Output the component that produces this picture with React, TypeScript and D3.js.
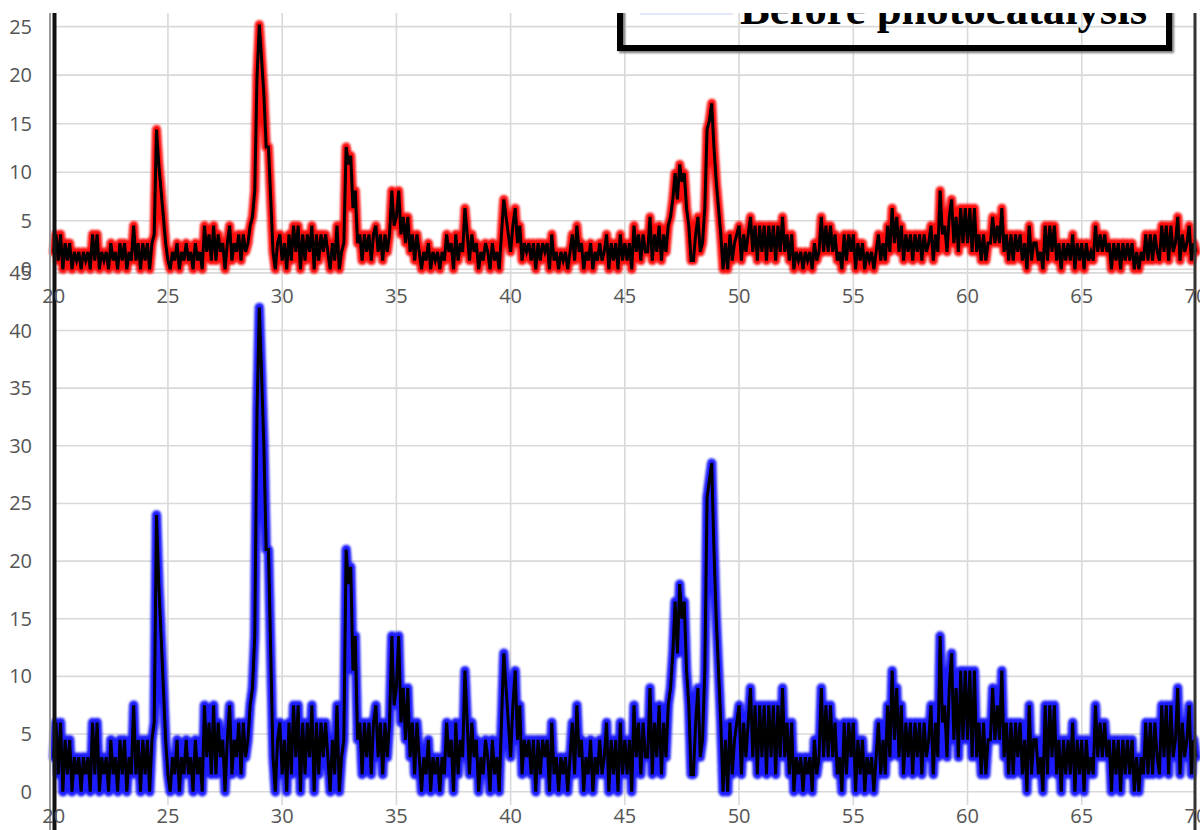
import React from 'react';
import * as d3 from 'd3';

// 2θ sampling of the traces (degrees)
const X_START = 20;
const X_STEP = 0.1;

// intensity read as count levels (top: 0.9 per level, bottom: 1.5 per level)
const TOP_UNIT = 0.9;
const BOTTOM_UNIT = 1.5;

const topCounts = [
  2,4,1,4,0,3,1,3,0,2, 1,2,0,2,1,2,0,4,1,4, 0,2,1,2,0,3,1,2,0,3, 1,3,0,2,1,5,1,3,0,3,
  1,3,0,3,4,16,12,9,6,3, 1,0,2,1,3,0,2,1,3,1, 2,0,3,1,2,0,5,2,4,1, 5,1,4,2,3,0,3,5,1,3,
  2,4,1,4,2,3,5,6,9,22, 28,24,20,14,14,8,2,0,3,4, 1,3,0,4,1,5,2,5,0,4, 1,4,2,5,0,4,1,4,2,4,
  2,0,3,1,5,0,2,3,14,12, 13,7,9,3,4,1,4,2,4,1, 4,5,2,4,1,4,2,4,9,5, 6,9,4,6,3,6,2,4,1,4,
  2,0,2,1,3,0,2,1,2,0, 2,1,4,2,3,0,4,1,3,2, 7,4,1,4,2,3,0,2,1,3, 2,0,3,1,2,0,4,8,6,4,
  2,5,7,3,5,1,3,2,3,1, 3,0,3,1,3,2,3,0,4,1, 2,0,2,1,2,0,2,4,1,5, 2,3,0,2,1,3,0,2,1,3,
  1,2,4,0,3,1,3,0,4,1, 3,1,3,0,5,2,4,1,4,2, 2,6,1,4,2,5,1,4,2,5, 6,8,11,8,12,10,11,7,5,1,
  1,4,6,2,3,7,16,17,19,14, 10,7,4,0,3,0,4,1,3,4, 5,1,4,2,4,6,2,5,1,5, 2,5,1,5,2,5,1,5,2,6,
  2,4,1,4,0,2,1,2,0,2, 1,2,0,3,1,2,6,2,5,2, 5,2,4,1,2,0,4,1,4,2, 4,0,3,1,3,0,2,1,2,0,
  2,4,1,3,1,5,2,7,3,6, 2,5,1,4,2,4,1,4,2,4, 1,4,2,3,5,1,4,2,9,4, 5,2,6,8,3,6,2,7,3,7,
  3,7,2,7,2,4,1,4,1,3, 3,6,3,5,3,7,2,4,1,4, 1,4,2,4,1,3,0,5,1,3, 3,1,2,0,5,1,5,2,5,1,
  3,0,3,1,3,1,4,0,3,1, 3,0,3,1,2,1,5,2,4,2, 4,2,3,0,3,1,3,0,3,1, 3,1,3,0,2,0,2,1,4,1,
  4,1,4,2,1,5,2,5,1,5, 2,3,6,1,4,2,3,5,1,3, 2,
];

const bottomCounts = [
  2,4,1,4,0,3,1,3,0,2, 1,2,0,2,1,2,0,4,1,4, 0,2,1,2,0,3,1,2,0,3, 1,3,0,2,1,5,1,3,0,3,
  1,3,0,3,4,16,12,9,6,3, 1,0,2,1,3,0,2,1,3,1, 2,0,3,1,2,0,5,2,4,1, 5,1,4,2,3,0,3,5,1,3,
  2,4,1,4,2,3,5,6,9,22, 28,24,20,14,14,8,2,0,3,4, 1,3,0,4,1,5,2,5,0,4, 1,4,2,5,0,4,1,4,2,4,
  2,0,3,1,5,0,2,3,14,12, 13,7,9,3,4,1,4,2,4,1, 4,5,2,4,1,4,2,4,9,5, 6,9,4,6,3,6,2,4,1,4,
  2,0,2,1,3,0,2,1,2,0, 2,1,4,2,3,0,4,1,3,2, 7,4,1,4,2,3,0,2,1,3, 2,0,3,1,2,0,4,8,6,4,
  2,5,7,3,5,1,3,2,3,1, 3,0,3,1,3,2,3,0,4,1, 2,0,2,1,2,0,2,4,1,5, 2,3,0,2,1,3,0,2,1,3,
  1,2,4,0,3,1,3,0,4,1, 3,1,3,0,5,2,4,1,4,2, 2,6,1,4,2,5,1,4,2,5, 6,8,11,8,12,10,11,7,5,1,
  1,4,6,2,3,7,17,18,19,14, 10,7,4,0,3,0,4,1,3,4, 5,1,4,2,4,6,2,5,1,5, 2,5,1,5,2,5,1,5,2,6,
  2,4,1,4,0,2,1,2,0,2, 1,2,0,3,1,2,6,2,5,2, 5,2,4,1,2,0,4,1,4,2, 4,0,3,1,3,0,2,1,2,0,
  2,4,1,3,1,5,2,7,3,6, 2,5,1,4,2,4,1,4,2,4, 1,4,2,3,5,1,4,2,9,4, 5,2,6,8,3,6,2,7,3,7,
  3,7,2,7,2,4,1,4,1,3, 3,6,3,5,3,7,2,4,1,4, 1,4,2,4,1,3,0,5,1,3, 3,1,2,0,5,1,5,2,5,1,
  3,0,3,1,3,1,4,0,3,1, 3,0,3,1,2,1,5,2,4,2, 4,2,3,0,3,1,3,0,3,1, 3,1,3,0,2,0,2,1,4,1,
  4,1,4,2,1,5,2,5,1,5, 2,3,6,1,4,2,3,5,1,3, 2,
];

const xTicks = [20, 25, 30, 35, 40, 45, 50, 55, 60, 65, 70];
const topYTicks = [0, 5, 10, 15, 20, 25];
const bottomYTicks = [0, 5, 10, 15, 20, 25, 30, 35, 40, 45];
const legendLabel = 'Before photocatalysis';

const W = 1200;
const H = 830;
const CLIP_TOP = 13;
const X0 = 53.7;
const X1 = 1196;

export default function App() {
  const x = d3.scaleLinear().domain([20, 70]).range([X0, X1]);
  const yTop = d3.scaleLinear().domain([0, 25]).range([269.3, 26.6]);
  const yBot = d3.scaleLinear().domain([0, 40]).range([791.7, 330.5]);

  const topLine = d3
    .line<number>()
    .x((_, i) => x(X_START + i * X_STEP))
    .y((d) => yTop(d * TOP_UNIT));
  const botLine = d3
    .line<number>()
    .x((_, i) => x(X_START + i * X_STEP))
    .y((d) => yBot(d * BOTTOM_UNIT));

  const grid = '#d9d9d9';
  const labelFont = { fontFamily: 'Open Sans, Noto Sans, sans-serif', fontSize: 20, fill: '#555' };

  const topPath = topLine(topCounts) || '';
  const botPath = botLine(bottomCounts) || '';

  return (
    <svg
      width={W}
      height={H}
      style={{ position: 'absolute', left: 0, top: 0, background: '#fff' }}
    >
      <defs>
        <clipPath id="page">
          <rect x={0} y={CLIP_TOP} width={W} height={H - CLIP_TOP} />
        </clipPath>
        <filter id="soft" x="-5%" y="-5%" width="110%" height="110%">
          <feGaussianBlur stdDeviation="1.1" />
        </filter>
        <filter id="shadow" x="-5%" y="-50%" width="110%" height="200%">
          <feGaussianBlur stdDeviation="1.2" />
        </filter>
      </defs>
      <rect x={0} y={0} width={W} height={H} fill="#fff" />
      <g clipPath="url(#page)">
        {/* vertical grid */}
        {xTicks.slice(1, -1).map((t) => (
          <line key={'vg' + t} x1={x(t)} x2={x(t)} y1={CLIP_TOP} y2={805} stroke={grid} strokeWidth={1.6} />
        ))}
        {/* horizontal grid top */}
        {topYTicks.map((t) => (
          <line key={'tg' + t} x1={X0} x2={X1} y1={yTop(t)} y2={yTop(t)} stroke={grid} strokeWidth={1.6} />
        ))}
        {/* horizontal grid bottom */}
        {bottomYTicks.map((t) => (
          <line key={'bg' + t} x1={X0} x2={X1} y1={yBot(t)} y2={yBot(t)} stroke={grid} strokeWidth={1.6} />
        ))}

        {/* legend box (partly cut at top) */}
        <rect x={622} y={-20} width={549} height={70} fill="none" stroke="#777" strokeWidth={6} filter="url(#shadow)" />
        <rect x={620} y={-20} width={549} height={68} fill="none" stroke="#000" strokeWidth={6} />
        <line x1={640} x2={733} y1={14} y2={14} stroke="#c9d2ff" strokeWidth={1.2} />
        <text
          x={740}
          y={23.5}
          textLength={407}
          lengthAdjust="spacingAndGlyphs"
          style={{ fontFamily: 'Liberation Serif, DejaVu Serif, serif', fontWeight: 700, fontSize: 45, fill: '#000' }}
        >
          {legendLabel}
        </text>

        {/* top trace */}
        <path d={topPath} fill="none" stroke="#ff0a0a" strokeWidth={9} strokeLinejoin="round" strokeLinecap="round" filter="url(#soft)" />
        <path d={topPath} fill="none" stroke="#000" strokeWidth={3} strokeLinejoin="miter" />

        {/* bottom trace */}
        <path d={botPath} fill="none" stroke="#1e1eff" strokeWidth={9.5} strokeLinejoin="round" strokeLinecap="round" filter="url(#soft)" />
        <path d={botPath} fill="none" stroke="#000" strokeWidth={3} strokeLinejoin="miter" />

        {/* axes lines */}
        <line x1={50} x2={50} y1={CLIP_TOP} y2={H} stroke="#9a9a9a" strokeWidth={2} />
        <line x1={54.5} x2={54.5} y1={CLIP_TOP} y2={H} stroke="#111" strokeWidth={4} />
        <line x1={1195} x2={1195} y1={CLIP_TOP} y2={H} stroke="#333" strokeWidth={3} />

        {/* tick labels */}
        {topYTicks.map((t) => (
          <text key={'tyl' + t} x={32} y={yTop(t) + 7} textAnchor="end" style={labelFont}>
            {t}
          </text>
        ))}
        {bottomYTicks.map((t) => (
          <text key={'byl' + t} x={32} y={yBot(t) + 7} textAnchor="end" style={labelFont}>
            {t}
          </text>
        ))}
        {xTicks.map((t) => (
          <text key={'txl' + t} x={x(t)} y={303} textAnchor="middle" style={labelFont}>
            {t}
          </text>
        ))}
        {xTicks.map((t) => (
          <text key={'bxl' + t} x={x(t)} y={823} textAnchor="middle" style={labelFont}>
            {t}
          </text>
        ))}
      </g>
    </svg>
  );
}
